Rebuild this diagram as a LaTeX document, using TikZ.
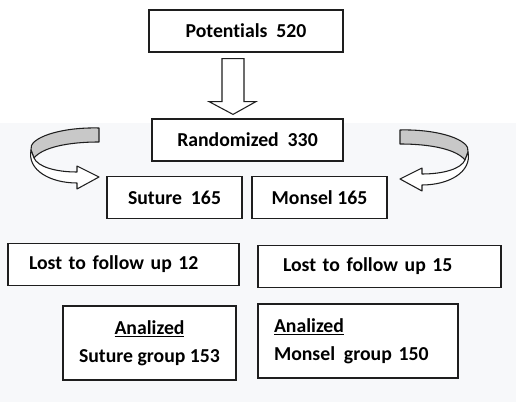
\documentclass[tikz,border=0pt]{standalone}
\usepackage{fontspec}
\setmainfont{Carlito}[Ligatures=NoCommon]
\usetikzlibrary{positioning, calc}
\definecolor{pagegray}{RGB}{247,248,250}
\definecolor{ribbongray}{RGB}{200,200,200}
\definecolor{edgegray}{RGB}{30,30,30}

\begin{document}
\begin{tikzpicture}[
    x=0.75pt, y=-0.75pt,
    box/.style={rectangle, draw=edgegray, line width=0.9pt, fill=white, minimum width=#1, minimum height=31.5pt, inner sep=0pt, align=center, font=\fontsize{14.8}{21}\selectfont\bfseries},
    box/.default=101.25pt,
    bigarrow/.style={draw=edgegray, line width=0.8pt, fill=white, line join=miter},
    ribbon/.style={draw=edgegray, line width=0.8pt, fill=#1, line join=round},
    ribbon/.default=white
]
\useasboundingbox (0,0) rectangle (516,402);

% Background
\fill[white] (0,0) rectangle (516,123);
\fill[pagegray] (0,123) rectangle (516,402);

% Top of the flow
\node[box=145.5pt] (pot) at (246,31) {Potentials~~520};
\node[box=143.25pt] (rand) at (247.5,140) {Randomized~~330};

% Groups
\node[box] (sut) at (174.5,197.5) {Suture~~165};
\node[box] (mon) at (319.5,197.5) {Monsel 165};

% Lost to follow up
\node[box=173.25pt, text width=141.75pt, inner xsep=15.75pt, align=left] (lost1) at (123.5,264.5) {Lost to follow up 12};
\node[box=182.25pt, text width=144.75pt, inner xsep=18.75pt, align=left] (lost2) at (379.5,266.5) {Lost to follow up 15};

% Analized
\node[box=129.75pt, minimum height=55.5pt] (ana1) at (149.5,343) {\underline{Analized}\\Suture group 153};
\node[box=150pt, minimum height=55.5pt, text width=126pt, inner xsep=12pt, align=left] (ana2) at (358,341) {\underline{Analized}\\Monsel\hspace{0.45em}group 150};

% Block arrow
\draw[bigarrow] ($(pot.south)+(-24,6)$) -- ($(pot.south)+(-2,6)$) -- ($(pot.south)+(-2,49)$)
    -- ($(pot.south)+(10,49)$) -- ($(rand.north)+(-14.5,-4)$) -- ($(pot.south)+(-37,49)$)
    -- ($(pot.south)+(-24,49)$) -- cycle;

% Curved arrows
\foreach \sh/\fl in {0/1, 499/-1} {
\begin{scope}[shift={(\sh,{(1-\fl)})}, xscale=\fl]
    \draw[ribbon=ribbongray] (99,128) .. controls (60,127) and (28,138) .. (31,150)
        -- (34,158) .. controls (42,148) and (66,142) .. (99,142) -- cycle;
    \draw[ribbon] (31,150) .. controls (27,170) and (50,183) .. (77,183)
        -- (77,189) -- (99,177) -- (77,166) -- (77,172)
        .. controls (56,172) and (38,167) .. (34,158) -- cycle;
\end{scope}
}

\end{tikzpicture}
\end{document}
